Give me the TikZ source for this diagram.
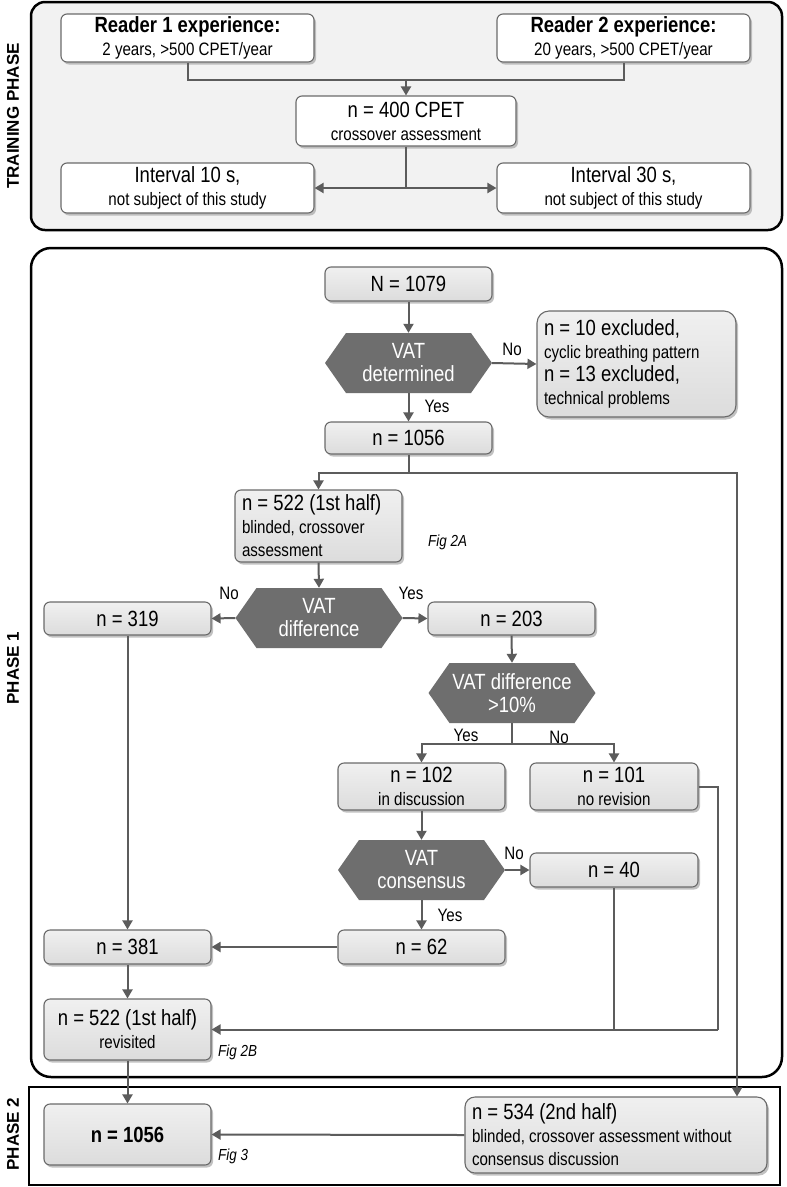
\documentclass[tikz,border=0pt]{standalone}
\usepackage{fontspec}
\setmainfont{Liberation Sans}[FakeStretch=0.84]
\newfontfamily\sidefont{Liberation Sans}
\usetikzlibrary{arrows.meta,shadows,calc}
\definecolor{boxtop}{HTML}{F0F0F0}
\definecolor{boxbot}{HTML}{DCDCDC}
\definecolor{boxline}{HTML}{6A6A6A}
\definecolor{hexcol}{HTML}{6E6E6E}
\definecolor{conncol}{HTML}{5C5C5C}
\definecolor{trainbg}{HTML}{F2F2F2}
\newcommand\bigt{\fontsize{22}{23}\selectfont}
\newcommand\smt{\fontsize{18}{22}\selectfont}
\begin{document}
\begin{tikzpicture}[x=1pt,y=-1pt,
  box/.style={draw=boxline, line width=1.1pt, top color=boxtop, bottom color=boxbot, rounded corners=6pt,
    drop shadow={shadow xshift=2pt, shadow yshift=-2.5pt, fill=black!40, opacity=0.6},
    align=center, inner sep=2pt, font=\bigt},
  wbox/.style={box, top color=white, bottom color=white},
  lbox/.style={box, align=flush left, inner xsep=7pt},
  hextxt/.style={text=white, align=center, font=\bigt, inner sep=0pt},
  link/.style={draw=conncol, line width=2pt},
  arr/.style={link, -{Triangle[width=10pt,length=9pt]}},
  frame/.style={draw=black, line width=2.5pt},
  lbl/.style={font=\fontsize{18}{20}\selectfont, inner sep=0pt},
  fig/.style={font=\fontsize{16}{18}\selectfont\itshape, inner sep=0pt, anchor=west},
  side/.style={font=\sidefont\bfseries\fontsize{17}{19}\selectfont, rotate=90, inner sep=0pt}
]
\useasboundingbox (0,0) rectangle (787,1187);
% hexagon helper
\newcommand\hexshape[3]{\fill[hexcol] ({#1-83.5},#2) -- ({#1-62.5},{#2-30}) -- ({#1+62.5},{#2-30}) -- ({#1+83.5},#2) -- ({#1+62.5},{#2+30}) -- ({#1-62.5},{#2+30}) -- cycle;
  \node[hextxt, minimum width=167pt, minimum height=60pt] (#3) at (#1,#2) {};}

% frames
\draw[frame, fill=trainbg, rounded corners=14pt] (31,2) rectangle (782,230);
\draw[frame, fill=white, rounded corners=20pt] (31,248) rectangle (782,1077);
\draw[frame, fill=white] (29,1087) rectangle (780,1185);

\node[side] (ltrain) at (13,116) {TRAINING PHASE};
\node[side] (lp1) at (13,668) {PHASE 1};
\node[side] (lp2) at (13,1134) {PHASE 2};

% training phase
\node[wbox, minimum width=253pt, minimum height=48pt] (r1) at (187.5,38)
  {\textbf{Reader 1 experience:}\\{\smt 2 years, >500 CPET/year}};
\node[wbox, minimum width=253pt, minimum height=48pt] (r2) at (623.5,38)
  {\textbf{Reader 2 experience:}\\{\smt 20 years, >500 CPET/year}};
\node[wbox, minimum width=220pt, minimum height=50pt] (n400) at (406,121)
  {n = 400 CPET\\{\smt crossover assessment}};
\node[wbox, minimum width=253pt, minimum height=50pt] (i10) at (187.5,188)
  {Interval 10 s,\\{\smt not subject of this study}};
\node[wbox, minimum width=253pt, minimum height=50pt] (i30) at (623.5,188)
  {Interval 30 s,\\{\smt not subject of this study}};
\coordinate (tj) at (406,80);
\coordinate (bj) at (406,188);
\draw[link] (r1.south) |- (tj) -| (r2.south);
\draw[arr] (tj) -- (n400.north);
\draw[link] (n400.south) -- (bj);
\draw[arr] (bj) -- (i10.east);
\draw[arr] (bj) -- (i30.west);

% phase 1
\node[box, minimum width=167pt, minimum height=34pt] (n1079) at (408.5,284) {N = 1079};
\hexshape{408.5}{363}{h1}
\node[hextxt] (h1t) at (h1) {VAT\\determined};
\node[lbox, text width=185pt, minimum height=106pt, rounded corners=12pt] (excl) at (636.5,364)
  {n = 10 excluded,\\{\smt cyclic breathing pattern}\\n = 13 excluded,\\{\smt technical problems}};
\node[box, minimum width=167pt, minimum height=32pt] (n1056a) at (408.5,438) {n = 1056};
\draw[arr] (n1079.south) -- (h1.north);
\draw[arr] (h1.east) -- (excl.west);
\node[lbl] (no1) at (512,349) {No};
\draw[arr] (h1.south) -- (n1056a.north);
\node[lbl] (yes1) at (437,406) {Yes};

\node[lbox, text width=153pt, minimum height=72pt] (n522a) at (318.5,526)
  {n = 522 (1st half)\\{\smt blinded, crossover}\\{\smt assessment}};
\node[fig] (f2a) at (428,542) {Fig 2A};
\coordinate (ja) at (408.5,473);
\coordinate (jr) at (737,473);
\draw[link] (n1056a.south) -- (ja);
\draw[arr] (ja) -| (n522a.north);

\hexshape{319}{618}{h2}
\node[hextxt] (h2t) at (h2) {VAT\\difference};
\node[box, minimum width=167pt, minimum height=33pt] (n319) at (127.5,618.5) {n = 319};
\node[box, minimum width=167pt, minimum height=33pt] (n203) at (511.5,618.5) {n = 203};
\draw[arr] (n522a.south) -- (h2.north);
\draw[arr] (h2.west) -- (n319.east);
\draw[arr] (h2.east) -- (n203.west);
\node[lbl] (no2) at (229,593) {No};
\node[lbl] (yes2) at (411,593) {Yes};

\hexshape{512}{693}{h3}
\node[hextxt] (h3t) at (h3) {VAT difference\\>10\%};
\draw[arr] (n203.south) -- (h3.north);
\node[box, minimum width=167pt, minimum height=47pt] (n102) at (421.5,786.5)
  {n = 102\\{\smt in discussion}};
\node[box, minimum width=168pt, minimum height=47pt] (n101) at (614,786.5)
  {n = 101\\{\smt no revision}};
\coordinate (j3) at (512,744);
\draw[link] (h3.south) -- (j3);
\draw[arr] (j3) -| (n102.north);
\draw[arr] (j3) -| (n101.north);
\node[lbl] (yes3) at (466,735) {Yes};
\node[lbl] (no3) at (559,737) {No};

\hexshape{421.5}{870}{h4}
\node[hextxt] (h4t) at (h4) {VAT\\consensus};
\draw[arr] (n102.south) -- (h4.north);
\node[box, minimum width=168pt, minimum height=34pt] (n40) at (614,870) {n = 40};
\draw[arr] (h4.east) -- (n40.west);
\node[lbl] (no4) at (514,853) {No};
\node[box, minimum width=167pt, minimum height=34pt] (n62) at (421.5,947) {n = 62};
\draw[arr] (h4.south) -- (n62.north);
\node[lbl] (yes4) at (450,915) {Yes};
\node[box, minimum width=167pt, minimum height=34pt] (n381) at (127.5,947) {n = 381};
\draw[arr] (n62.west) -- (n381.east);
\draw[arr] (n319.south) -- (n381.north);

\node[box, minimum width=167pt, minimum height=61pt] (n522b) at (127.5,1029.5)
  {n = 522 (1st half)\\{\smt revisited}};
\node[fig] (f2b) at (218,1052) {Fig 2B};
\draw[arr] (n381.south) -- (n522b.north);
\coordinate (rj) at (718,1029.5);
\draw[link] (n101.east) -| (rj);
\draw[arr] (rj) -- (n522b.east);
\draw[link] (n40.south) -- (n40.south |- rj);

% phase 2
\node[box, minimum width=167pt, minimum height=61pt, font=\bfseries\bigt] (n1056b) at (127.5,1134.5) {n = 1056};
\node[fig] (f3) at (218,1156) {Fig 3};
\node[lbox, text width=288pt, minimum height=76pt, rounded corners=10pt] (n534) at (616,1135)
  {n = 534 (2nd half)\\{\smt blinded, crossover assessment without}\\{\smt consensus discussion}};
\draw[arr] (n522b.south) -- (n1056b.north);
\draw[arr] (ja) -| (jr |- n534.north);
\draw[arr] (n534.west) -- (n1056b.east);
\end{tikzpicture}
\end{document}
